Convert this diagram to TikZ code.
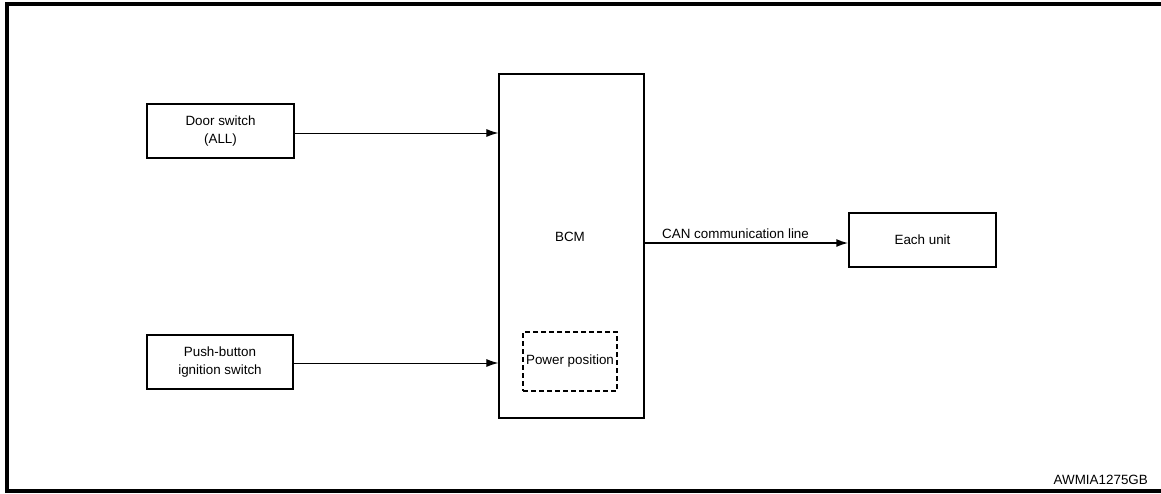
\documentclass[tikz,border=0pt]{standalone}
\usepackage{fontspec}
\setmainfont{Liberation Sans}
\usetikzlibrary{arrows.meta}
\begin{document}
\begin{tikzpicture}[x=1pt,y=-1pt,
  box/.style={draw, line width=1.2pt, inner sep=0pt, align=center, font=\fontsize{13.4}{18}\selectfont},
  lbl/.style={inner sep=0pt, font=\fontsize{13.4}{18}\selectfont},
  conn/.style={line width=1pt, -{Latex[length=12pt,width=8pt]}},
  frame/.style={line width=4pt}]
\useasboundingbox (0,0) rectangle (1161,493);
% outer frame (open at right)
\draw[frame] (1161,3.5) -- (6.5,3.5) -- (6.5,491) -- (1161,491);
% nodes
\node[box, minimum width=147pt, minimum height=54pt] (door) at (220.5,131) {Door switch\\(ALL)};
\node[box, minimum width=146pt, minimum height=54pt] (push) at (220,362) {Push-button\\ignition switch};
\node[box, minimum width=145pt, minimum height=344pt] (bcm) at (571.5,246) {};
\node[lbl] (bcmlabel) at (570,237) {BCM};
\node[box, dash pattern=on 5pt off 3pt, line width=1.2pt, minimum width=94pt, minimum height=59pt] (power) at (570,361.5) {Power position};
\node[box, minimum width=147pt, minimum height=54pt] (unit) at (922.5,240) {Each unit};
\node[lbl, anchor=west] (canlabel) at (662,234) {CAN communication line};
\node[lbl, anchor=east] (code) at (1148,480) {AWMIA1275GB};
% connectors
\draw[conn] (door.east |- 0,133) -- (bcm.west |- 0,133);
\draw[conn] (push.east |- 0,363) -- (bcm.west |- 0,363);
\draw[conn, line width=2pt] (bcm.east |- 0,243) -- (unit.west |- 0,243);
\end{tikzpicture}
\end{document}
